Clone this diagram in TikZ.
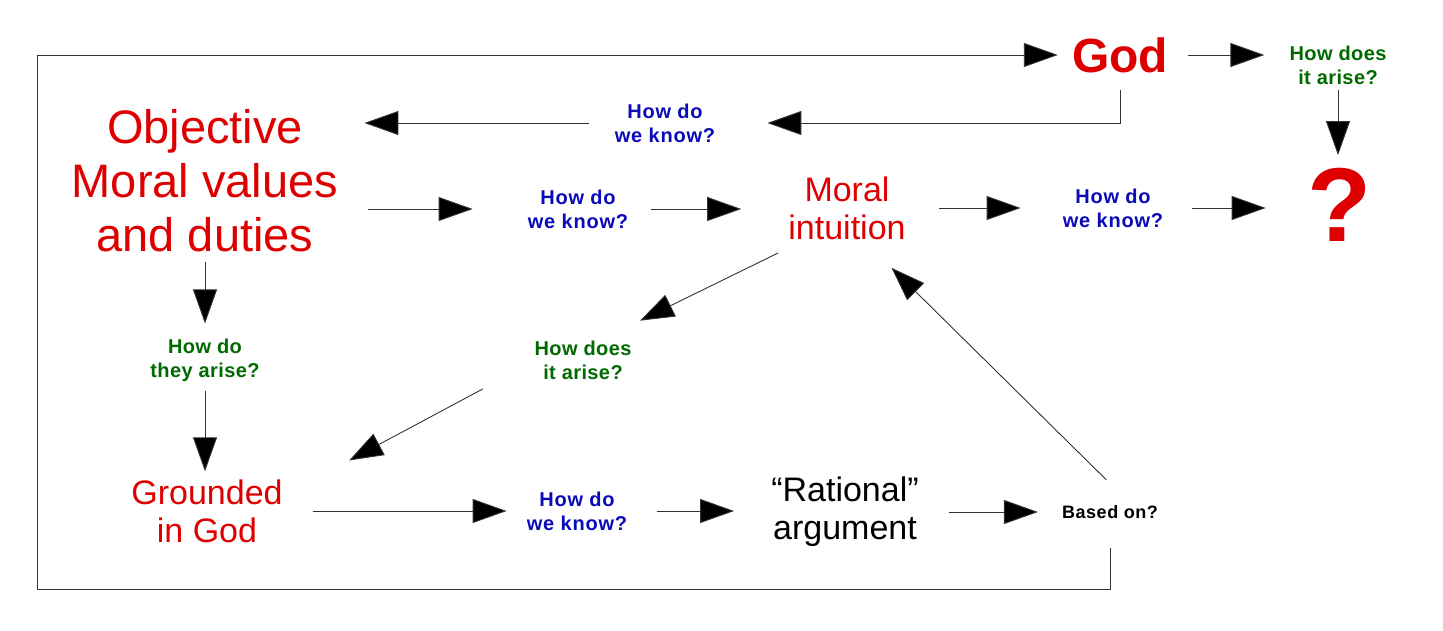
\documentclass[tikz,border=0pt]{standalone}
\usepackage{fontspec}
\setmainfont{Liberation Sans}
\usetikzlibrary{arrows.meta,positioning,calc}

\definecolor{hdred}{RGB}{222,0,0}
\definecolor{qblue}{RGB}{10,10,185}
\definecolor{qgreen}{RGB}{0,105,0}

\begin{document}
\begin{tikzpicture}[
  x=1pt, y=-1pt,
  big/.style={text=hdred, align=center, inner sep=0pt, font=\fontsize{47}{54}\selectfont},
  mid/.style={text=hdred, align=center, inner sep=0pt, font=\fontsize{34}{38}\selectfont},
  know/.style={text=qblue, align=center, inner sep=0pt, font=\fontsize{20}{24}\selectfont\bfseries\addfontfeature{LetterSpace=4}},
  arise/.style={text=qgreen, align=center, inner sep=0pt, font=\fontsize{20}{24}\selectfont\bfseries\addfontfeature{LetterSpace=2}},
  arr/.style={-{Triangle[length=34pt,width=24pt,fill=black]}, line width=0.9pt, black!80}
]
\useasboundingbox (0,0) rectangle (1443,631);

% top row
\node[big, font=\fontsize{48}{54}\selectfont\bfseries] (god) at (1120,55) {God};
\node[arise] (ga) at (1338,65) {How does\\it arise?};
\node[text=hdred, inner sep=0pt, font=\fontsize{105}{110}\selectfont\bfseries] (qm) at (1340,205) {?};
\node[know] (wk1) at (665,123) {How do\\we know?};

% middle row
\node[big] (obj) at (205,181) {Objective\\Moral values\\and duties};
\node[know] (wk2) at (578,209) {How do\\we know?};
\node[mid] (mi) at (847,208) {Moral\\intuition};
\node[know] (wk3) at (1113,208) {How do\\we know?};

\node[arise] (ta) at (205,360) {How do\\they arise?};
\node[arise] (ga2) at (583,360) {How does\\it arise?};

% bottom row
\node[mid] (gig) at (207,511) {Grounded\\in God};
\node[know] (wk4) at (577,511) {How do\\we know?};
\node[mid, text=black] (ra) at (845,512) {“Rational”\\argument};
\node[inner sep=0pt, font=\fontsize{18}{20}\selectfont\bfseries\addfontfeature{LetterSpace=3}] (bo) at (1110,512) {Based on?};

% around the frame back to God
\coordinate (lc) at (37,589);
\draw[arr, shorten <=29pt, shorten >=14pt] (bo.south) |- (lc) |- (god.west);

\draw[arr, shorten <=20pt, shorten >=25pt] (god.east) -- (god.east -| ga.west);
\draw[arr, shorten <=5pt, shorten >=13pt] (ga.south) -- (ga.south |- qm.north);
\draw[arr, shorten <=17pt, shorten >=52pt] (god.south) |- (wk1.east);
\draw[arr, shorten <=26pt, shorten >=26pt] (wk1.west) -- (wk1.west -| obj.east);

\draw[arr, shorten <=30pt, shorten >=55pt] (obj.east |- wk2.west) -- (wk2.west);
\draw[arr, shorten <=23pt, shorten >=47pt] (wk2.east) -- (wk2.east -| mi.west);
\draw[arr, shorten <=33pt, shorten >=42pt] (mi.east) -- (mi.east -| wk3.west);
\draw[arr, shorten <=29pt, shorten >=42pt] (wk3.east) -- (wk3.east -| qm.west);

% diagonals
\draw[arr, shorten <=30pt, shorten >=45pt] ([xshift=17pt]mi.south west) -- ([xshift=-32pt]ga2.north east);
\draw[arr, shorten <=20pt, shorten >=40pt] ([xshift=-34pt]ga2.south west) -- ([xshift=31pt]gig.north east);
\draw[arr, shorten <=36pt, shorten >=40pt] ([xshift=22pt]bo.north) -- ([xshift=16pt]mi.south);

\draw[arr, shorten <=10pt, shorten >=15pt] (obj.south) -- (ta.north);
\draw[arr, shorten <=9pt, shorten >=8pt] (ta.south) -- (ta.south |- gig.north);

\draw[arr, shorten <=30pt, shorten >=20pt] (gig.east) -- (gig.east -| wk4.west);
\draw[arr, shorten <=30pt, shorten >=37pt] (wk4.east) -- (wk4.east -| ra.west);
\draw[arr, shorten <=30pt, shorten >=24pt] (ra.east) -- (ra.east -| bo.west);

\end{tikzpicture}
\end{document}
